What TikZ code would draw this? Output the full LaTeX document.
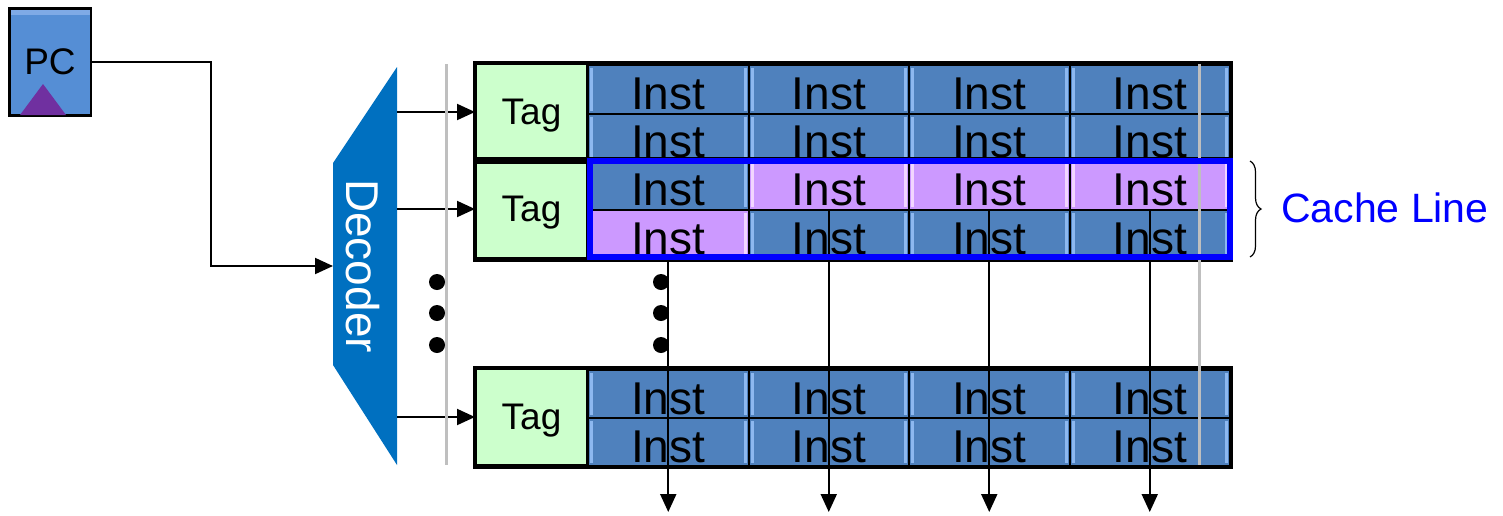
\documentclass[tikz,border=0pt]{standalone}
\usepackage{fontspec}
\setmainfont{Liberation Sans}
\usetikzlibrary{arrows.meta,decorations.pathreplacing,calc}
\definecolor{instblue}{HTML}{4F81BD}
\definecolor{instedge}{HTML}{8DB8F0}
\definecolor{instpurple}{HTML}{CC99FF}
\definecolor{purpedge}{HTML}{F2D6FF}
\definecolor{taggreen}{HTML}{CCFFCC}
\definecolor{decblue}{HTML}{0070C0}
\definecolor{pcblue}{HTML}{558ED5}
\definecolor{pclight}{HTML}{7FAAE6}
\definecolor{trianglepurple}{HTML}{7030A0}
\definecolor{railgray}{HTML}{BFBFBF}
\colorlet{cf}{instblue}
\colorlet{ce}{instedge}
\begin{document}
\begin{tikzpicture}[x=1pt,y=-1pt,
  cellbox/.style={draw=black, line width=2pt, minimum width=160.5pt, inner sep=0pt,
    font=\fontsize{46}{46}\selectfont, text height=40pt, text depth=0pt, anchor=north west,
    fill=cf,
    path picture={
      \fill[ce] ([xshift=2pt,yshift=-3pt]path picture bounding box.north west) rectangle ([xshift=5pt,yshift=3pt]path picture bounding box.south west);
      \fill[ce] ([xshift=-5pt,yshift=-3pt]path picture bounding box.north east) rectangle ([xshift=-2pt,yshift=3pt]path picture bounding box.south east);
    }},
  tagbox/.style={draw=black, line width=2pt, fill=taggreen, minimum width=111pt, inner sep=0pt,
    font=\fontsize{37}{37}\selectfont, text depth=0pt},
  arr/.style={-{Triangle[length=18pt,width=16pt]}, line width=2pt},
  dotnode/.style={circle, fill=black, inner sep=0pt, minimum size=16pt},
  rail/.style={railgray, line width=3pt},
  blockframe/.style={draw=black, line width=3.5pt}
]
\useasboundingbox (0,0) rectangle (1503,515);

% PC register
\node[draw=black, line width=2.5pt, fill=pcblue, minimum width=81.5pt, minimum height=107pt,
  inner sep=0pt, font=\fontsize{37}{37}\selectfont, text depth=0pt,
  path picture={\fill[pclight] (path picture bounding box.north west) rectangle ([yshift=-6pt]path picture bounding box.north east);}] (pc) at (50,62) {PC};
\fill[trianglepurple] (43,84) -- (66,115) -- (20,115) -- cycle;

% Decoder
\fill[decblue] (333,163) -- (397,67) -- (397,465) -- (333,365) -- cycle;
\node[rotate=-90, text=white, font=\fontsize{46}{46}\selectfont, text depth=0pt, inner sep=0pt] (dectext) at (363,266) {Decoder};
\coordinate (decin) at (333,266);
\coordinate (bend) at (211,266);
\coordinate (do1) at (397,112);
\coordinate (do2) at (397,209);
\coordinate (do3) at (397,417);

% Tags
\node[tagbox, minimum height=96pt] (tag1) at (531.5,112) {Tag};
\node[tagbox, minimum height=98pt] (tag2) at (531.5,209) {Tag};
\node[tagbox, minimum height=96pt] (tag3) at (531.5,417) {Tag};

% Instruction cells
\foreach \r/\y/\h in {1/64/48.5, 2/112.5/47.5, 3/160/49, 4/209/49, 5/369/48, 6/417/48} {
  \foreach \c in {1,...,4} {
    \pgfmathsetmacro\xx{587+160.5*(\c-1)}
    \pgfmathtruncatemacro\ispurple{or(and(\r==3,\c>1),and(\r==4,\c==1))}
    \ifnum\ispurple=1 \colorlet{cf}{instpurple}\colorlet{ce}{purpedge}\else\colorlet{cf}{instblue}\colorlet{ce}{instedge}\fi
    \node[cellbox, minimum height=\h pt] (c\r-\c) at (\xx,\y) {Inst};
  }
}
% Block outlines
\draw[blockframe] (tag1.north west) rectangle (c2-4.south east);
\draw[blockframe] (tag2.north west) rectangle (c4-4.south east);
\draw[blockframe] (tag3.north west) rectangle (c6-4.south east);

% Connectors
\draw[arr] (pc.east) -| (bend) -- (decin);
\draw[arr] (do1) -- (tag1.west);
\draw[arr] (do2) -- (tag2.west);
\draw[arr] (do3) -- (tag3.west);

\coordinate (bottomref) at (0,512);
\foreach \c in {1,...,4} { \coordinate (out\c) at (c4-\c.south |- bottomref); }
\draw[arr] (c4-1.south) -- (out1);
\foreach \c in {2,3,4} { \draw[arr] (c4-\c.north) -- (out\c); }

% Rails
\draw[rail] (446,64) -- (446,465);
\draw[rail] (1199,64) -- (1199,465);

% Cache line highlight
\node[draw=blue, line width=6pt, minimum width=640pt, minimum height=96pt, inner sep=0pt] (cacheline) at (910,209) {};
\draw[decorate, decoration={brace, amplitude=11pt}, line width=1.2pt] ([xshift=17pt,yshift=-3pt]cacheline.north east) -- ([xshift=17pt,yshift=3pt]cacheline.south east);
\node[anchor=west, text=blue, font=\fontsize{41}{41}\selectfont, text depth=0pt, inner sep=0pt] (cltext) at (1281,208) {Cache Line};

% Ellipsis dots
\node[dotnode] (ld1) at (437,282) {};
\node[dotnode] (ld2) at (437,313) {};
\node[dotnode] (ld3) at (437,345) {};
\node[dotnode] (md1) at (661,282) {};
\node[dotnode] (md2) at (661,313) {};
\node[dotnode] (md3) at (661,345) {};
\end{tikzpicture}
\end{document}
